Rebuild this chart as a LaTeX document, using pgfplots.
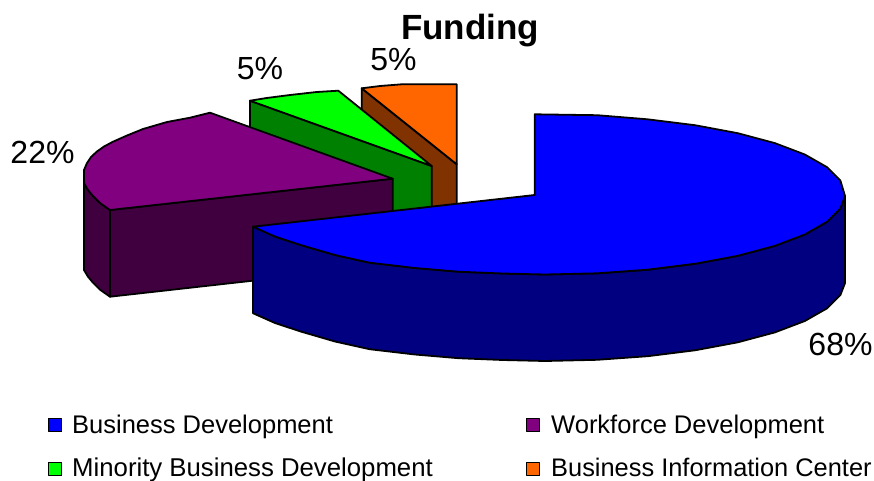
\documentclass[border=0pt]{standalone}
\usepackage{pgfplots}
\pgfplotsset{compat=1.18}
\usepackage{fontspec}
\setmainfont{Liberation Sans}
\definecolor{cblue}{HTML}{0000FF}\definecolor{dblue}{HTML}{000080}
\definecolor{cpur}{HTML}{800080}\definecolor{dpur}{HTML}{400040}
\definecolor{cgrn}{HTML}{00FF00}\definecolor{dgrn}{HTML}{008000}
\definecolor{corg}{HTML}{FF6600}\definecolor{dorg}{HTML}{803300}
\begin{document}
\begin{tikzpicture}
\clip (0,0) rectangle (874pt,480pt);
\begin{axis}[scale only axis,width=874pt,height=480pt,xmin=0,xmax=874,ymin=0,ymax=480,y dir=reverse,axis lines=none,clip=false,
  every axis plot/.append style={draw=black,line width=1.8pt,line join=round}]
% orange slice
\addplot[fill=dorg] coordinates {(361.7,88.3)(456.7,164.3)(456.7,250)(361.7,174)} -- cycle;
\addplot[fill=corg] coordinates {(361.7,88.3)(380,86)(401.7,84.3)(456.7,84.3)(456.7,164.3)} -- cycle;
% green slice
\addplot[fill=dgrn] coordinates {(250,100.7)(431.7,166)(431.7,255)(250,190)} -- cycle;
\addplot[fill=cgrn] coordinates {(250,100.7)(266.7,98)(290,95)(316.7,92)(338.3,90.7)(431.7,166)} -- cycle;
% purple slice
\addplot[fill=dpur] coordinates {(84,183)(88,190)(93,196)(100,203)(110,210)(110,296.7)(100,289.7)(93,282.7)(88,276.7)(84,270)} -- cycle;
\addplot[fill=dpur] coordinates {(110,210)(392.7,178.7)(392.7,265)(110,296.7)} -- cycle;
\addplot[fill=cpur] coordinates {(392.7,178.7)(210,112.7)(190,117.7)(167,122)(143,129)(127,135.5)(113,141.7)(104,146.5)(96.7,151.7)(91,157)(87,163)(84,170)(84,183)(88,190)(93,196)(100,203)(110,210)} -- cycle;
% blue slice
\addplot[fill=dblue] coordinates {(253,226.7)(275,236.5)(300.7,245)(335,255)(369.6,262.7)(415,268)(458.6,271.7)(503,273.5)(545,274.5)(597.1,273.3)(647.6,269.7)(695,263.8)(737.8,255.8)(774.8,245.9)(804.8,234.5)(826.9,221.9)(840.4,208.4)(845,196)(845,283)(840.4,295)(826.9,308.4)(804.8,321)(774.8,332.4)(737.8,342.3)(695,350.3)(647.6,356.2)(597.1,359.8)(545,361)(503,360)(458.6,358.2)(415,354.5)(369.6,349.2)(335,341.5)(300.7,331.5)(275,323)(253,313.2)} -- cycle;
\addplot[fill=cblue] coordinates {(534.7,114.3)(597.1,115.2)(647.6,119.3)(695,125.2)(737.8,133.2)(774.8,143.1)(804.8,154.5)(826.9,167.1)(840.4,180.6)(845,196)(840.4,208.4)(826.9,221.9)(804.8,234.5)(774.8,245.9)(737.8,255.8)(695,263.8)(647.6,269.7)(597.1,273.3)(545,274.5)(503,273.5)(458.6,271.7)(415,268)(369.6,262.7)(335,255)(300.7,245)(275,236.5)(253,226.7)(534.7,195)} -- cycle;
% legend keys
\addplot[only marks,mark=square*,mark size=6.5pt,mark options={fill=cblue,draw=black,line width=1.5pt}] coordinates {(55,425)};
\addplot[only marks,mark=square*,mark size=6.5pt,mark options={fill=cpur,draw=black,line width=1.5pt}] coordinates {(533,425)};
\addplot[only marks,mark=square*,mark size=6.5pt,mark options={fill=cgrn,draw=black,line width=1.5pt}] coordinates {(55,469)};
\addplot[only marks,mark=square*,mark size=6.5pt,mark options={fill=corg,draw=black,line width=1.5pt}] coordinates {(533,469)};
% texts
\node[anchor=base,font=\fontsize{35}{35}\selectfont\bfseries,inner sep=0] at (axis cs:470,39) {Funding};
\node[anchor=base,font=\fontsize{32}{32}\selectfont,inner sep=0] at (axis cs:42.5,163) {22\%};
\node[anchor=base,font=\fontsize{32}{32}\selectfont,inner sep=0] at (axis cs:260,79) {5\%};
\node[anchor=base,font=\fontsize{32}{32}\selectfont,inner sep=0] at (axis cs:393.5,70) {5\%};
\node[anchor=base,font=\fontsize{32}{32}\selectfont,inner sep=0] at (axis cs:840.5,355) {68\%};
\node[anchor=base west,font=\fontsize{25.5}{25.5}\selectfont,inner sep=0] at (axis cs:72,433) {Business Development};
\node[anchor=base west,font=\fontsize{25.5}{25.5}\selectfont,inner sep=0] at (axis cs:551,433) {Workforce Development};
\node[anchor=base west,font=\fontsize{25.75}{25.75}\selectfont,inner sep=0] at (axis cs:72,476) {Minority Business Development};
\node[anchor=base west,font=\fontsize{25.4}{25.4}\selectfont,inner sep=0] at (axis cs:551,476) {Business Information Center};
\end{axis}
\end{tikzpicture}
\end{document}
